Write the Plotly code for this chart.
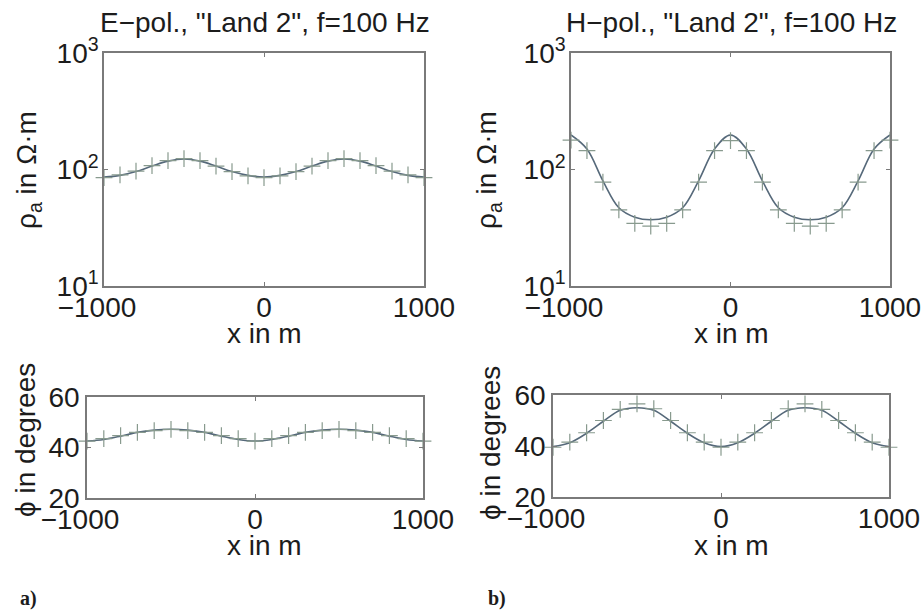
import plotly.graph_objects as go

# ---------------- data ----------------
x_pos = [-1000, -900, -800, -700, -600, -500, -400, -300, -200, -100, 0,
         100, 200, 300, 400, 500, 600, 700, 800, 900, 1000]

# E-polarisation, apparent resistivity (Ohm m)
e_rho_data = [85, 90, 97, 108, 119, 124, 119, 107, 96, 88, 85,
              88, 96, 107, 119, 124, 119, 108, 97, 90, 85]
e_rho_model = [86, 89, 96, 107, 118, 123, 118, 107, 96, 89, 86,
               89, 96, 107, 118, 123, 118, 107, 96, 89, 86]

# H-polarisation, apparent resistivity (Ohm m)
h_rho_data = [179, 145, 78, 45, 34.5, 32.7, 34.5, 45, 78, 145, 177,
              145, 78, 45, 34.5, 32.7, 34.5, 45, 78, 145, 179]
h_rho_model = [198, 150, 80, 47, 39, 37, 39, 47, 80, 150, 198,
               150, 80, 47, 39, 37, 39, 47, 80, 150, 198]

# E-polarisation, phase (degrees)
e_phi_data = [42.5, 43.5, 44.7, 46.0, 46.7, 47.2, 46.7, 46.0, 44.7, 43.5, 42.5,
              43.5, 44.7, 46.0, 46.7, 47.2, 46.7, 46.0, 44.7, 43.5, 42.5]
e_phi_model = [42.6, 43.2, 44.5, 46.0, 46.9, 47.2, 46.9, 46.0, 44.5, 43.2, 42.6,
               43.2, 44.5, 46.0, 46.9, 47.2, 46.9, 46.0, 44.5, 43.2, 42.6]

# H-polarisation, phase (degrees)
h_phi_data = [39.5, 41.5, 45.2, 50.0, 54.4, 56.5, 54.6, 50.0, 45.2, 41.5, 39.5,
              41.5, 45.2, 50.0, 54.6, 56.5, 54.4, 50.0, 45.2, 41.5, 39.5]
h_phi_model = [39.8, 41.3, 45.0, 49.7, 54.0, 55.0, 54.0, 49.7, 45.0, 41.3, 39.8,
               41.3, 45.0, 49.7, 54.0, 55.0, 54.0, 49.7, 45.0, 41.3, 39.8]

x_ticks = [-1000, 0, 1000]
x_ticktext = ["\u22121000\u2002", "0", "1000"]
rho_ticks = [10, 100, 1000]
rho_ticktext = ["10<sup>1</sup>", "10<sup>2</sup>", "10<sup>3</sup>"]
phi_ticks = [20, 40, 60]
phi_ticktext = ["20", "40", "60"]

titles = ['E\u2212pol., "Land 2", f=100 Hz', 'H\u2212pol., "Land 2", f=100 Hz']

# ---------------- style ----------------
W, H = 924, 612
FONT = "Liberation Sans, Arial, sans-serif"
SERIF = "Liberation Serif, Times New Roman, serif"
TXT = "#1c1c1c"
FS = 28
LINE_C = "#56697a"
MARK_C = "#889a8e"
FRAME_C = "#7a7a7a"


def px_x(p):
    return p / W


def px_y(p):
    return 1 - p / H


fig = go.Figure()

panels = [
    # (xaxis id, yaxis id, y data, y model, log?, x-domain px, y-domain px)
    ("x", "y", e_rho_data, e_rho_model, True, (104, 424), (53, 286)),
    ("x2", "y2", h_rho_data, h_rho_model, True, (571, 890), (53, 286)),
    ("x3", "y3", e_phi_data, e_phi_model, False, (87, 423), (397, 498)),
    ("x4", "y4", h_phi_data, h_phi_model, False, (553, 889), (395, 497)),
]

for xa, ya, yd, ym, is_log, (xl, xr), (yt, yb) in panels:
    fig.add_trace(go.Scatter(
        x=x_pos, y=ym, mode="lines", xaxis=xa, yaxis=ya,
        line=dict(color=LINE_C, width=1.6, shape="spline", smoothing=1.0),
        showlegend=False, hoverinfo="skip", cliponaxis=True))
    fig.add_trace(go.Scatter(
        x=x_pos, y=yd, mode="markers", xaxis=xa, yaxis=ya,
        marker=dict(symbol="cross-thin", size=12,
                    line=dict(color=MARK_C, width=1.2)),
        showlegend=False, hoverinfo="skip", cliponaxis=False))

    xkey = "xaxis" if xa == "x" else "xaxis" + xa[1:]
    ykey = "yaxis" if ya == "y" else "yaxis" + ya[1:]
    axis_common = dict(
        showline=True, linecolor=FRAME_C, linewidth=1.5, mirror="ticks",
        ticks="inside", ticklen=4, tickwidth=1, tickcolor=FRAME_C,
        showgrid=False, zeroline=False, automargin=False,
        tickfont=dict(family=FONT, size=FS, color=TXT),
    )
    fig.layout[xkey] = dict(
        axis_common, domain=[px_x(xl), px_x(xr)], anchor=ya,
        range=[-1000, 1000], tickmode="array", tickvals=x_ticks,
        ticktext=x_ticktext, ticklabelstandoff=-4)
    if is_log:
        fig.layout[ykey] = dict(
            axis_common, domain=[px_y(yb), px_y(yt)], anchor=xa,
            type="log", range=[1, 3], tickmode="array",
            tickvals=rho_ticks, ticktext=rho_ticktext, ticklabelstandoff=-2)
    else:
        fig.layout[ykey] = dict(
            axis_common, domain=[px_y(yb), px_y(yt)], anchor=xa,
            range=[20, 60], tickmode="array",
            tickvals=phi_ticks, ticktext=phi_ticktext, ticklabelstandoff=0)

ann = []


def add_text(text, xp, yp, size=FS, angle=0, family=FONT, xanchor="center"):
    ann.append(dict(text=text, x=px_x(xp), y=px_y(yp), xref="paper", yref="paper",
                    showarrow=False, textangle=angle, xanchor=xanchor, yanchor="middle",
                    font=dict(family=family, size=size, color=TXT)))


add_text(titles[0], 265, 22.5)
add_text(titles[1], 731, 22.5)
add_text("x in m", 264.5, 333.5)
add_text("x in m", 731, 333.5)
add_text("x in m", 264.5, 545)
add_text("x in m", 731, 545)
add_text("\u03c1<sub>a</sub> in \u03a9\u00b7m", 28, 170, angle=-90)
add_text("\u03c1<sub>a</sub> in \u03a9\u00b7m", 488, 170, angle=-90)
add_text("\u03d5 in degrees", 25, 440, angle=-90)
add_text("\u03d5 in degrees", 490, 443, angle=-90)
add_text("<b>a)</b>", 18, 598, size=20, family=SERIF, xanchor="left")
add_text("<b>b)</b>", 486, 598, size=20, family=SERIF, xanchor="left")

fig.update_layout(
    width=W, height=H,
    margin=dict(l=0, r=0, t=0, b=0, autoexpand=False),
    paper_bgcolor="white", plot_bgcolor="white",
    annotations=ann,
    showlegend=False,
)

fig.write_html("out.html")
